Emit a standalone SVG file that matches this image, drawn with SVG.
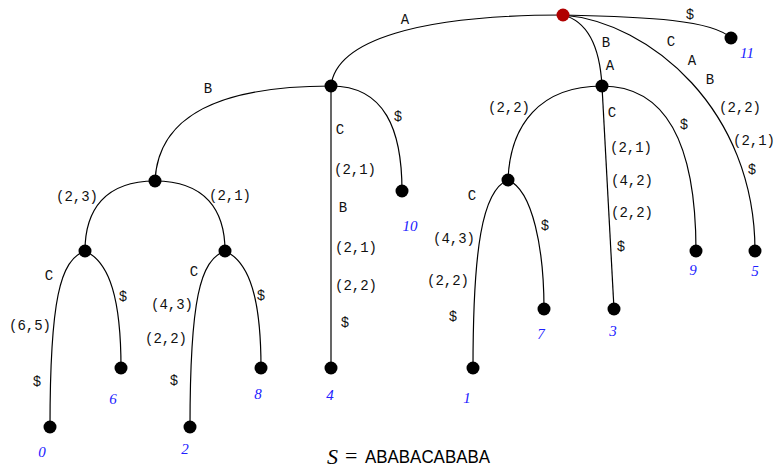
<svg xmlns="http://www.w3.org/2000/svg" width="774" height="469" viewBox="0 0 774 469">
<style>
.e{fill:none;stroke:#000;stroke-width:1.2}
.n{fill:#000}
.r{fill:#b00000}
.l{font-family:"Liberation Mono",monospace;font-size:14px;fill:#111;text-anchor:middle;dominant-baseline:central}
.i{font-family:"Liberation Serif",serif;font-style:italic;font-size:15px;fill:#2020ff;text-anchor:middle;dominant-baseline:central}
</style>
<rect width="774" height="469" fill="#fff"/>
<g id="connectors">
<path class="e" d="M563,15 C420,15 336,40 331,86"/>
<path class="e" d="M331,86 C220,86 158,115 155,181"/>
<path class="e" d="M331,86 L331,368"/>
<path class="e" d="M331,86 C385,86 402,130 402,191"/>
<path class="e" d="M155,181 C105,181 85,210 85,251"/>
<path class="e" d="M155,181 C205,181 225,210 225,251"/>
<path class="e" d="M85,251 C60,260 50,300 50,427"/>
<path class="e" d="M85,251 C110,262 121,300 121,368"/>
<path class="e" d="M225,251 C200,260 190,300 190,427"/>
<path class="e" d="M225,251 C250,262 261,300 261,368"/>
<path class="e" d="M563,15 C590,22 600,50 602,86"/>
<path class="e" d="M563,15 C650,17 712,20 731,38"/>
<path class="e" d="M563,15 C650,22 755,110 755,251"/>
<path class="e" d="M602,86 C540,86 510,125 508,180"/>
<path class="e" d="M602,86 L614,309"/>
<path class="e" d="M602,86 C670,86 696,150 696,251"/>
<path class="e" d="M508,180 C482,190 473,250 473,368"/>
<path class="e" d="M508,180 C533,190 544,250 544,309"/>
</g>
<g id="labels">
<text class="l" x="405" y="20">A</text>
<text class="l" x="208" y="89">B</text>
<text class="l" x="340" y="130">C</text>
<text class="l" x="355" y="170">(2,1)</text>
<text class="l" x="343" y="208">B</text>
<text class="l" x="356" y="248">(2,1)</text>
<text class="l" x="356" y="286">(2,2)</text>
<text class="l" x="345" y="323">$</text>
<text class="l" x="398" y="117">$</text>
<text class="l" x="77" y="197">(2,3)</text>
<text class="l" x="230" y="196">(2,1)</text>
<text class="l" x="49" y="276">C</text>
<text class="l" x="30" y="326">(6,5)</text>
<text class="l" x="37" y="382">$</text>
<text class="l" x="123" y="297">$</text>
<text class="l" x="194" y="272">C</text>
<text class="l" x="172" y="305">(4,3)</text>
<text class="l" x="166" y="339">(2,2)</text>
<text class="l" x="174" y="381">$</text>
<text class="l" x="261" y="296">$</text>
<text class="l" x="509" y="108">(2,2)</text>
<text class="l" x="472" y="196">C</text>
<text class="l" x="454" y="239">(4,3)</text>
<text class="l" x="448" y="281">(2,2)</text>
<text class="l" x="453" y="317">$</text>
<text class="l" x="545" y="226">$</text>
<text class="l" x="606" y="43">B</text>
<text class="l" x="610" y="66">A</text>
<text class="l" x="612" y="113">C</text>
<text class="l" x="631" y="148">(2,1)</text>
<text class="l" x="632" y="181">(4,2)</text>
<text class="l" x="632" y="213">(2,2)</text>
<text class="l" x="621" y="247">$</text>
<text class="l" x="684" y="125">$</text>
<text class="l" x="690" y="15">$</text>
<text class="l" x="671" y="42">C</text>
<text class="l" x="692" y="61">A</text>
<text class="l" x="710" y="80">B</text>
<text class="l" x="740" y="108">(2,2)</text>
<text class="l" x="754" y="141">(2,1)</text>
<text class="l" x="752" y="170">$</text>
</g>
<g id="root"><circle class="r" cx="563" cy="15" r="6.5"/></g>
<g id="nA"><circle class="n" cx="331" cy="86" r="6.5"/></g>
<g id="nAB"><circle class="n" cx="155" cy="181" r="6.5"/></g>
<g id="nL"><circle class="n" cx="85" cy="251" r="6.5"/></g>
<g id="nR"><circle class="n" cx="225" cy="251" r="6.5"/></g>
<g id="nBA"><circle class="n" cx="602" cy="86" r="6.5"/></g>
<g id="nBAB"><circle class="n" cx="508" cy="180" r="6.5"/></g>
<g id="leaf0"><circle class="n" cx="50" cy="427" r="6.5"/><text class="i" x="42" y="452">0</text></g>
<g id="leaf6"><circle class="n" cx="121" cy="368" r="6.5"/><text class="i" x="113" y="399">6</text></g>
<g id="leaf2"><circle class="n" cx="190" cy="427" r="6.5"/><text class="i" x="185" y="449">2</text></g>
<g id="leaf8"><circle class="n" cx="261" cy="368" r="6.5"/><text class="i" x="258" y="394">8</text></g>
<g id="leaf4"><circle class="n" cx="331" cy="368" r="6.5"/><text class="i" x="330" y="395">4</text></g>
<g id="leaf10"><circle class="n" cx="402" cy="191" r="6.5"/><text class="i" x="410" y="226">10</text></g>
<g id="leaf1"><circle class="n" cx="473" cy="368" r="6.5"/><text class="i" x="467" y="398">1</text></g>
<g id="leaf7"><circle class="n" cx="544" cy="309" r="6.5"/><text class="i" x="541" y="334">7</text></g>
<g id="leaf3"><circle class="n" cx="614" cy="309" r="6.5"/><text class="i" x="613" y="331">3</text></g>
<g id="leaf9"><circle class="n" cx="696" cy="251" r="6.5"/><text class="i" x="693" y="270">9</text></g>
<g id="leaf5"><circle class="n" cx="755" cy="251" r="6.5"/><text class="i" x="755" y="271">5</text></g>
<g id="leaf11"><circle class="n" cx="731" cy="38" r="6.5"/><text class="i" x="747" y="53">11</text></g>
<g id="caption">
<text x="327" y="464" font-family="Liberation Serif,serif" font-size="22" font-style="italic" fill="#000">S</text>
<text x="345" y="463" font-family="Liberation Serif,serif" font-size="22" fill="#000">=</text>
<text x="365" y="463" font-family="Liberation Sans,sans-serif" font-size="18" fill="#000" textLength="125" lengthAdjust="spacingAndGlyphs">ABABACABABA</text>
</g>
</svg>
